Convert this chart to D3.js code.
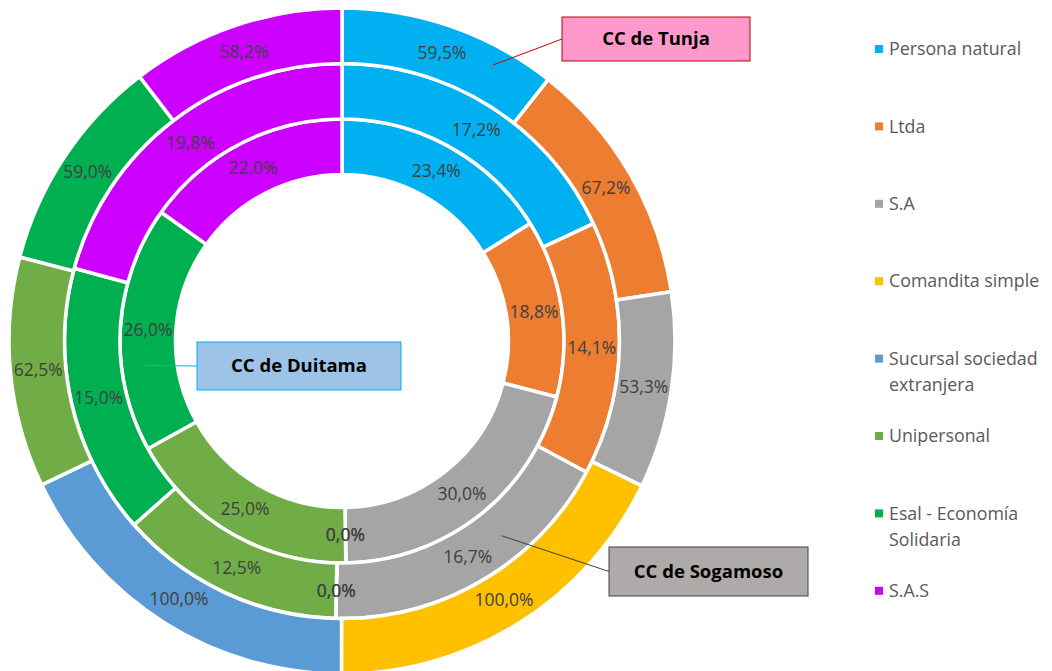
<!DOCTYPE html>
<html>
<head>
<meta charset="utf-8">
<script src="https://cdn.jsdelivr.net/npm/d3@7"></script>
<style>
  body { margin: 0; background: #fff; }
  svg { display: block; }
</style>
</head>
<body>
<div id="container"></div>
<script>
/* DATA */
const categories = ["Persona natural", "Ltda", "S.A", "Comandita simple",
  "Sucursal sociedad extranjera", "Unipersonal", "Esal - Economía Solidaria", "S.A.S"];
const legendLines = [["Persona natural"], ["Ltda"], ["S.A"], ["Comandita simple"],
  ["Sucursal sociedad", "extranjera"], ["Unipersonal"], ["Esal - Economía", "Solidaria"], ["S.A.S"]];
const colors = ["#00B0F0", "#ED7D31", "#A5A5A5", "#FFC000", "#5B9BD5", "#70AD47", "#00B050", "#CC00FF"];

// rings from inside to outside
const duitama = [23.4, 18.8, 30.0, 0.0, 0.0, 25.0, 26.0, 22.0];
const sogamoso = [17.2, 14.1, 16.7, 0.0, 0.0, 12.5, 15.0, 19.8];
const tunja = [59.5, 67.2, 53.3, 100.0, 100.0, 62.5, 59.0, 58.2];

const series = [
  { name: "CC de Duitama", values: duitama },
  { name: "CC de Sogamoso", values: sogamoso },
  { name: "CC de Tunja", values: tunja }
];

/* CONSTANTS */
const width = 1052, height = 671;
const cx = 342, cy = 341;
const holeR = 166.5, outerR = 333;
const ringW = (outerR - holeR) / series.length;
const font = "'Open Sans', Lato, sans-serif";

const svg = d3.select("#container")
  .append("svg")
  .attr("width", width)
  .attr("height", height);

const g = svg.append("g").attr("transform", `translate(${cx},${cy})`);

const pie = d3.pie().sort(null).value(d => d);
const fmt = v => d3.format(".1f")(v).replace(".", ",") + "%";

series.forEach((s, i) => {
  const arc = d3.arc()
    .innerRadius(holeR + i * ringW)
    .outerRadius(holeR + (i + 1) * ringW);
  const arcs = pie(s.values);
  s.arc = arc;
  s.arcs = arcs;

  g.append("g").selectAll("path")
    .data(arcs)
    .join("path")
    .attr("d", arc)
    .attr("fill", (d, j) => colors[j])
    .attr("stroke", "#fff")
    .attr("stroke-width", 3.5)
    .attr("stroke-linejoin", "miter");
});

// data labels on top of all rings
series.forEach(s => {
  g.append("g").selectAll("text")
    .data(s.arcs)
    .join("text")
    .attr("transform", d => `translate(${s.arc.centroid(d)})`)
    .attr("text-anchor", "middle")
    .attr("dy", "0.35em")
    .attr("font-family", font)
    .attr("font-size", 17.5)
    .attr("fill", "#404040")
    .text(d => fmt(d.data));
});

// callout boxes for each ring
const callouts = [
  { name: "CC de Tunja", x: 562, y: 17, w: 188, h: 44, fill: "#FF99CC", stroke: "#C00000", ring: 2, idx: 0, frac: 0.75, r: 0.67 },
  { name: "CC de Duitama", x: 197, y: 342, w: 204, h: 48, fill: "#9DC3E6", stroke: "#00B0F0", ring: 0, idx: 6, frac: 0.34, r: 0.58 },
  { name: "CC de Sogamoso", x: 609, y: 547, w: 199, h: 49, fill: "#AEAAAA", stroke: "#404040", ring: 1, idx: 2, frac: 0.355, r: 0.54 }
];

callouts.forEach(c => {
  const s = series[c.ring];
  const a = s.arcs[c.idx];
  const ang = a.startAngle + (a.endAngle - a.startAngle) * c.frac;
  const rr = holeR + (c.ring + c.r) * ringW;
  const px = cx + rr * Math.sin(ang), py = cy - rr * Math.cos(ang);
  const bx = px < c.x ? c.x : c.x + c.w;
  svg.append("line")
    .attr("x1", px).attr("y1", py)
    .attr("x2", bx).attr("y2", c.y + c.h / 2)
    .attr("stroke", c.stroke)
    .attr("stroke-width", 1);
  svg.append("rect")
    .attr("x", c.x).attr("y", c.y)
    .attr("width", c.w).attr("height", c.h)
    .attr("fill", c.fill)
    .attr("stroke", c.stroke)
    .attr("stroke-width", 1);
  svg.append("text")
    .attr("x", c.x + c.w / 2).attr("y", c.y + c.h / 2)
    .attr("dy", "0.35em")
    .attr("text-anchor", "middle")
    .attr("font-family", font)
    .attr("font-weight", "bold")
    .attr("font-size", 18.5)
    .attr("fill", "#000")
    .text(c.name);
});

// legend
const legend = svg.append("g").attr("transform", "translate(875,0)");
const item = legend.selectAll("g")
  .data(categories)
  .join("g")
  .attr("transform", (d, i) => `translate(0,${49 + i * 77.4})`);

item.append("rect")
  .attr("x", 0).attr("y", -4)
  .attr("width", 8).attr("height", 8)
  .attr("fill", (d, i) => colors[i]);

item.append("text")
  .attr("x", 14)
  .attr("font-family", font)
  .attr("font-size", 17.8)
  .attr("fill", "#595959")
  .selectAll("tspan")
  .data((d, i) => legendLines[i])
  .join("tspan")
  .attr("x", 14)
  .attr("dy", (d, k) => k === 0 ? "0.35em" : "26px")
  .text(d => d);
</script>
</body>
</html>
